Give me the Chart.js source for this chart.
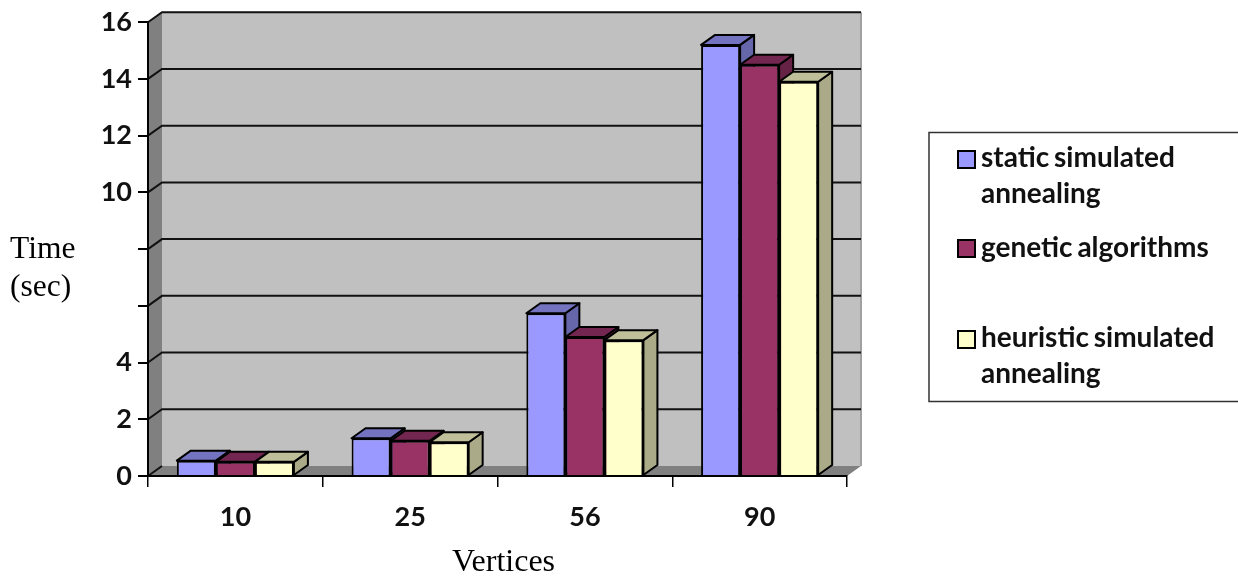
<!DOCTYPE html>
<html>
<head>
<meta charset="utf-8">
<script src="https://cdn.jsdelivr.net/npm/chart.js@4/dist/chart.umd.js"></script>
<style>
html,body{margin:0;padding:0;background:#fff;overflow:hidden}
canvas{display:block;filter:blur(0.5px)}
</style>
</head>
<body>
<canvas id="c" width="1238" height="578"></canvas>
<script>
const categories = ['10', '25', '56', '90'];
const staticSA = [0.54, 1.33, 5.74, 15.2];
const geneticAlg = [0.5, 1.24, 4.9, 14.5];
const heuristicSA = [0.5, 1.19, 4.79, 13.9];
const yTickValues = [0, 2, 4, 6, 8, 10, 12, 14, 16];
const yTickLabels = ['0', '2', '4', '', '', '10', '12', '14', '16'];
const seriesNames = ['static simulated annealing', 'genetic algorithms', 'heuristic simulated annealing'];
const legendLines = [['static simulated', 'annealing'], ['genetic algorithms'], ['heuristic simulated', 'annealing']];
const frontColors = ['#9999ff', '#993366', '#ffffcc'];
const topColors = ['#7373bf', '#732650', '#bfbf99'];
const sideColors = ['#6666aa', '#662244', '#aaaa88'];
const yTitleLines = ['Time', '(sec)'];
const xTitle = 'Vertices';

const DX = 14, DY = -10;

function poly(ctx, pts, fill, stroke, lw) {
  ctx.beginPath();
  pts.forEach((p, i) => i ? ctx.lineTo(p[0], p[1]) : ctx.moveTo(p[0], p[1]));
  ctx.closePath();
  if (fill) { ctx.fillStyle = fill; ctx.fill(); }
  if (stroke) { ctx.strokeStyle = stroke; ctx.lineWidth = lw; ctx.lineJoin = 'round'; ctx.stroke(); }
}

const walls = {
  id: 'walls',
  beforeDraw(chart) {
    const { ctx, chartArea: a, scales } = chart;
    const y = scales.y;
    ctx.save();
    poly(ctx, [[a.left + DX, a.top + DY], [a.right + DX, a.top + DY], [a.right + DX, a.bottom + DY], [a.left + DX, a.bottom + DY]], '#c0c0c0');
    poly(ctx, [[a.left, a.top], [a.left + DX, a.top + DY], [a.left + DX, a.bottom + DY], [a.left, a.bottom]], '#808080');
    poly(ctx, [[a.left, a.bottom], [a.left + DX, a.bottom + DY], [a.right + DX, a.bottom + DY], [a.right, a.bottom]], '#808080');
    ctx.strokeStyle = '#a0a0a0'; ctx.lineWidth = 2;
    ctx.beginPath(); ctx.moveTo(a.right + DX, a.top + DY); ctx.lineTo(a.right + DX, a.bottom + DY); ctx.stroke();
    ctx.strokeStyle = '#111'; ctx.lineWidth = 2;
    yTickValues.forEach(v => {
      const py = y.getPixelForValue(v);
      ctx.beginPath();
      ctx.moveTo(a.left, py);
      ctx.lineTo(a.left + DX, py + DY);
      if (v > 0) ctx.lineTo(a.right + DX, py + DY);
      ctx.stroke();
    });
    ctx.restore();
  },
  beforeDatasetsDraw(chart) {
    const ctx = chart.ctx;
    ctx.save();
    categories.forEach((c, i) => {
      chart.data.datasets.forEach((ds, d) => {
        const b = chart.getDatasetMeta(d).data[i];
        const l = b.x - b.width / 2, r = b.x + b.width / 2, t = b.y, bot = b.base;
        poly(ctx, [[r, t], [r + DX, t + DY], [r + DX, bot + DY], [r, bot]], sideColors[d], '#000', 2);
        poly(ctx, [[l, t], [l + DX, t + DY], [r + DX, t + DY], [r, t]], topColors[d], '#000', 2);
      });
    });
    ctx.restore();
  },
  afterDraw(chart) {
    const ctx = chart.ctx;
    ctx.save();
    ctx.fillStyle = '#000';
    ctx.textBaseline = 'alphabetic';
    ctx.textAlign = 'left';
    ctx.font = '31.5px "Liberation Serif"';
    ctx.fillText(yTitleLines[0], 10, 258);
    ctx.fillText(yTitleLines[1], 10, 296);
    ctx.font = '32px "Liberation Serif"';
    ctx.fillText(xTitle, 452, 571);
    // legend
    ctx.strokeStyle = '#333'; ctx.lineWidth = 1.5;
    ctx.strokeRect(929, 132.5, 320, 269);
    const swY = [151, 240, 331];
    const baselines = [[167, 203], [257], [347, 383]];
    legendLines.forEach((lines, i) => {
      ctx.fillStyle = frontColors[i];
      ctx.strokeStyle = '#000'; ctx.lineWidth = 2;
      ctx.fillRect(958, swY[i], 17, 17);
      ctx.strokeRect(958, swY[i], 17, 17);
      ctx.fillStyle = '#111';
      ctx.font = 'bold 28px Lato';
      ctx.wordSpacing = '-2px';
      lines.forEach((ln, k) => ctx.fillText(ln, 981, baselines[i][k]));
      ctx.wordSpacing = '0px';
    });
    ctx.restore();
  }
};

new Chart(document.getElementById('c'), {
  type: 'bar',
  data: {
    labels: categories,
    datasets: [staticSA, geneticAlg, heuristicSA].map((vals, i) => ({
      label: seriesNames[i],
      data: vals,
      backgroundColor: frontColors[i],
      borderColor: '#000',
      borderWidth: 2,
      categoryPercentage: 0.67,
      barPercentage: 1
    }))
  },
  options: {
    responsive: false,
    animation: false,
    layout: { padding: { left: 0, right: 391, top: 21, bottom: 0 } },
    plugins: { legend: { display: false }, tooltip: { enabled: false }, title: { display: false } },
    scales: {
      x: {
        afterFit(s) { s.height = 102; },
        grid: { drawOnChartArea: false, drawTicks: true, tickLength: 11, color: '#000', lineWidth: 1.5 },
        border: { display: true, color: '#000', width: 2 },
        ticks: { color: '#111', font: { family: 'Lato', size: 27, weight: 'bold' }, padding: 14, maxRotation: 0 },
        title: { display: false }
      },
      y: {
        min: 0, max: 16,
        afterFit(s) { s.width = 148; },
        afterBuildTicks(s) { s.ticks = yTickValues.map(v => ({ value: v })); },
        grid: { drawOnChartArea: false, drawTicks: true, tickLength: 10, color: '#000', lineWidth: 2 },
        border: { display: true, color: '#000', width: 2 },
        ticks: {
          color: '#111',
          font: { family: 'Lato', size: 27, weight: 'bold' },
          padding: 6,
          callback: (v) => yTickLabels[yTickValues.indexOf(v)]
        }
      }
    }
  },
  plugins: [walls]
});
</script>
</body>
</html>
